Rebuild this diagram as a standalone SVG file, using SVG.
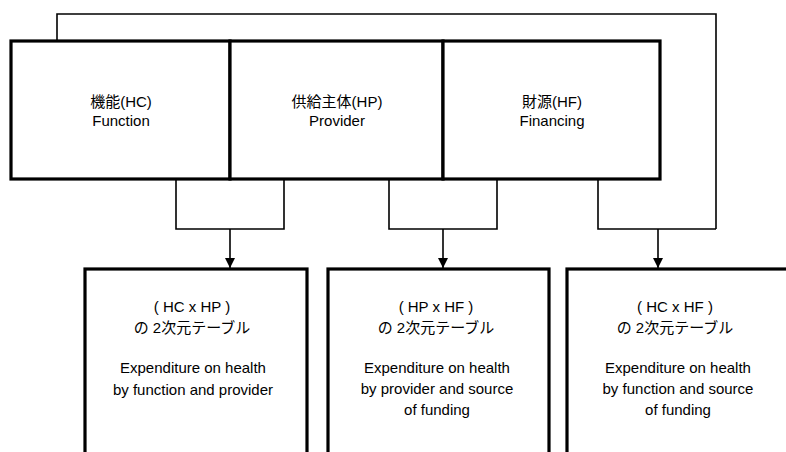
<svg xmlns="http://www.w3.org/2000/svg" width="786" height="452" viewBox="0 0 786 452">
<style>
  .box { fill: #ffffff; stroke: #000000; stroke-width: 3.2; }
  .conn { fill: none; stroke: #000000; stroke-width: 1.6; }
  text { font-family: "Liberation Sans", "Noto Sans CJK JP", sans-serif; font-size: 15px; fill: #000000; text-anchor: middle; }
</style>
<defs>
  <marker id="arr" viewBox="0 0 10 10" refX="10" refY="5" markerWidth="10" markerHeight="10" markerUnits="userSpaceOnUse" orient="auto">
    <path d="M0,0 L10,5 L0,10 Z" fill="#000000"/>
  </marker>
</defs>
<rect width="786" height="452" fill="#ffffff"/>
<g id="connectors">
  <polyline class="conn" points="57,41 57,14 716,14 716,229"/>
  <polyline class="conn" points="176,178 176,229 284,229 284,178"/>
  <polyline class="conn" points="389,178 389,229 497,229 497,178"/>
  <polyline class="conn" points="598,178 598,229 716,229"/>
  <line class="conn" x1="230" y1="229" x2="230" y2="268" marker-end="url(#arr)"/>
  <line class="conn" x1="443" y1="229" x2="443" y2="268" marker-end="url(#arr)"/>
  <line class="conn" x1="658" y1="229" x2="658" y2="268" marker-end="url(#arr)"/>
</g>
<g id="hc">
  <rect class="box" x="11" y="41" width="219" height="138"/>
  <text x="121" y="107">機能(HC)</text>
  <text x="121" y="126">Function</text>
</g>
<g id="hp">
  <rect class="box" x="230" y="41" width="213" height="138"/>
  <text x="337" y="107">供給主体(HP)</text>
  <text x="337" y="126">Provider</text>
</g>
<g id="hf">
  <rect class="box" x="443" y="41" width="217" height="138"/>
  <text x="552" y="107">財源(HF)</text>
  <text x="552" y="126">Financing</text>
</g>
<g id="hcxhp">
  <rect class="box" x="85" y="269" width="222" height="200"/>
  <text x="192" y="312">( HC x HP )</text>
  <text x="192" y="333">の 2次元テーブル</text>
  <text x="193" y="373">Expenditure on health</text>
  <text x="193" y="395">by function and provider</text>
</g>
<g id="hpxhf">
  <rect class="box" x="328" y="269" width="221" height="200"/>
  <text x="436" y="312">( HP x HF )</text>
  <text x="436" y="333">の 2次元テーブル</text>
  <text x="437" y="373">Expenditure on health</text>
  <text x="437" y="394">by provider and source</text>
  <text x="437" y="415">of funding</text>
</g>
<g id="hcxhf">
  <rect class="box" x="567" y="269" width="224" height="200"/>
  <text x="675" y="312">( HC x HF )</text>
  <text x="675" y="333">の 2次元テーブル</text>
  <text x="678" y="373">Expenditure on health</text>
  <text x="678" y="394">by function and source</text>
  <text x="678" y="415">of funding</text>
</g>
</svg>
